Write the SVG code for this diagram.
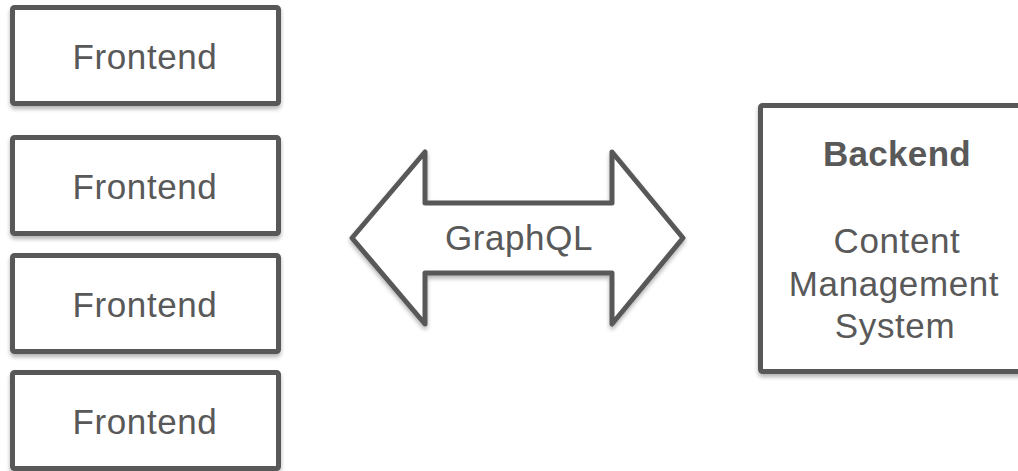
<svg xmlns="http://www.w3.org/2000/svg" width="1018" height="471" viewBox="0 0 1018 471">
  <style>
    .box { fill: #ffffff; stroke: #595959; stroke-width: 5; filter: url(#shadow); }
    .lbl { font-family: "Liberation Sans", Arial, sans-serif; font-size: 35px; fill: #595959; text-anchor: middle; letter-spacing: 0.6px; }
    .bold { font-weight: bold; letter-spacing: 0.3px; }
  </style>
  <defs>
    <filter id="shadow" x="-10%" y="-10%" width="130%" height="130%">
      <feGaussianBlur in="SourceAlpha" stdDeviation="2"/>
      <feOffset dx="0" dy="3" result="b"/>
      <feComponentTransfer><feFuncA type="linear" slope="0.3"/></feComponentTransfer>
      <feMerge><feMergeNode/><feMergeNode in="SourceGraphic"/></feMerge>
    </filter>
  </defs>
  <rect width="1018" height="471" fill="#ffffff"/>
  <g id="frontend1">
    <rect class="box" x="12.5" y="7.5" width="266" height="96" rx="2"/>
    <text class="lbl" x="145" y="68.5">Frontend</text>
  </g>
  <g id="frontend2">
    <rect class="box" x="12.5" y="137.5" width="266" height="96" rx="2"/>
    <text class="lbl" x="145" y="198.5">Frontend</text>
  </g>
  <g id="frontend3">
    <rect class="box" x="12.5" y="255.5" width="266" height="96" rx="2"/>
    <text class="lbl" x="145" y="316.5">Frontend</text>
  </g>
  <g id="frontend4">
    <rect class="box" x="12.5" y="372.5" width="266" height="96" rx="2"/>
    <text class="lbl" x="145" y="433.5">Frontend</text>
  </g>
  <g id="connectors">
    <g id="graphql">
      <polygon class="box" points="352,238 425,152 425,203 612,203 612,152 683,238 612,324 612,273 425,273 425,324" stroke-linejoin="round"/>
      <text class="lbl" x="519" y="250">GraphQL</text>
    </g>
  </g>
  <g id="backend">
    <rect class="box" x="760.5" y="105.5" width="300" height="266" rx="2"/>
    <text class="lbl bold" x="897" y="166">Backend</text>
    <text class="lbl" x="897" y="253">Content</text>
    <text class="lbl" x="894" y="296">Management</text>
    <text class="lbl" x="895" y="338">System</text>
  </g>
</svg>
